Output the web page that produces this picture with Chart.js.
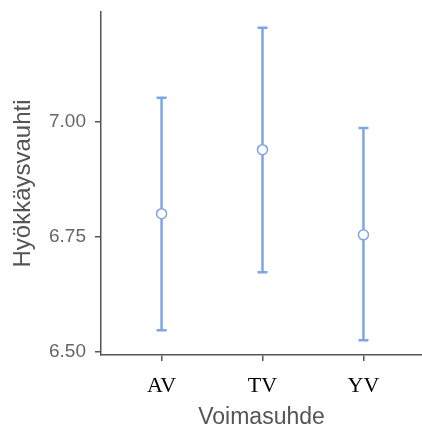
<!DOCTYPE html>
<html>
<head>
<meta charset="utf-8">
<script src="https://cdn.jsdelivr.net/npm/chart.js@4/dist/chart.umd.min.js"></script>
<style>
  html, body { margin: 0; padding: 0; background: #fff; overflow: hidden; }
  #wrap { width: 422px; height: 425px; }
</style>
</head>
<body>
<div id="wrap"><canvas id="myChart"></canvas></div>
<script>
// data
const categories = ['AV', 'TV', 'YV'];
const means = [6.80, 6.939, 6.754];
const lower = [6.547, 6.673, 6.525];
const upper = [7.052, 7.204, 6.986];
const yTicks = [6.50, 6.75, 7.00];

const blue = '#7ea6e6';
const axisGrey = '#555555';

// error bars drawn through the chart scales
const errorBars = {
    id: 'errorBars',
    beforeDatasetsDraw(chart) {
        const ctx = chart.ctx;
        const x = chart.scales.x;
        const y = chart.scales.y;
        ctx.save();
        ctx.strokeStyle = blue;
        ctx.lineWidth = 2.5;
        for (let i = 0; i < categories.length; i++) {
            const px = x.getPixelForValue(i);
            const top = y.getPixelForValue(upper[i]);
            const bot = y.getPixelForValue(lower[i]);
            ctx.beginPath();
            ctx.moveTo(px, top);
            ctx.lineTo(px, bot);
            ctx.moveTo(px - 5, top);
            ctx.lineTo(px + 5, top);
            ctx.moveTo(px - 5, bot);
            ctx.lineTo(px + 5, bot);
            ctx.stroke();
        }
        ctx.restore();
    }
};

const points = means.map(function (m, i) {
    return { x: i, y: m };
});

new Chart(document.getElementById('myChart'), {
    type: 'scatter',
    data: {
        datasets: [{
            data: points,
            backgroundColor: '#ffffff',
            borderColor: blue,
            borderWidth: 1.5,
            pointRadius: 5,
            pointHoverRadius: 5
        }]
    },
    options: {
        responsive: true,
        maintainAspectRatio: false,
        animation: false,
        layout: { autoPadding: false, padding: { top: 12, right: 0, left: 0, bottom: 0 } },
        plugins: {
            legend: { display: false },
            tooltip: { enabled: false }
        },
        scales: {
            x: {
                type: 'linear',
                min: -0.6,
                max: 2.58,
                afterBuildTicks: function (s) {
                    s.ticks = categories.map(function (c, i) { return { value: i }; });
                },
                afterFit: function (s) {
                    s.height = 70;
                    s.paddingLeft = 0;
                    s.paddingRight = 0;
                },
                grid: { drawOnChartArea: false, drawTicks: true, tickLength: 6, color: axisGrey, lineWidth: 1.5 },
                border: { color: axisGrey, width: 1.5 },
                ticks: {
                    color: '#000',
                    font: { family: 'Liberation Serif', size: 22 },
                    padding: 12,
                    maxRotation: 0,
                    callback: function (v) { return categories[v]; }
                },
                title: {
                    display: true,
                    text: 'Voimasuhde',
                    color: axisGrey,
                    font: { family: 'Liberation Sans', size: 23, lineHeight: 1 },
                    padding: { top: 0, bottom: -4 }
                }
            },
            y: {
                min: 6.493,
                max: 7.238,
                afterBuildTicks: function (s) {
                    s.ticks = yTicks.map(function (v) { return { value: v }; });
                },
                afterFit: function (s) {
                    s.width = 101;
                    s.paddingTop = 0;
                    s.paddingBottom = 0;
                },
                grid: { drawOnChartArea: false, drawTicks: true, tickLength: 6, color: axisGrey, lineWidth: 1.5 },
                border: { color: axisGrey, width: 1.5 },
                ticks: {
                    color: '#666',
                    font: { family: 'Liberation Sans', size: 19 },
                    padding: 9,
                    callback: function (v) { return v.toFixed(2); }
                },
                title: {
                    display: true,
                    text: 'Hyökkäysvauhti',
                    color: axisGrey,
                    font: { family: 'Liberation Sans', size: 24, lineHeight: 1 },
                    padding: { top: 11, bottom: 0 }
                }
            }
        }
    },
    plugins: [errorBars]
});
</script>
</body>
</html>
